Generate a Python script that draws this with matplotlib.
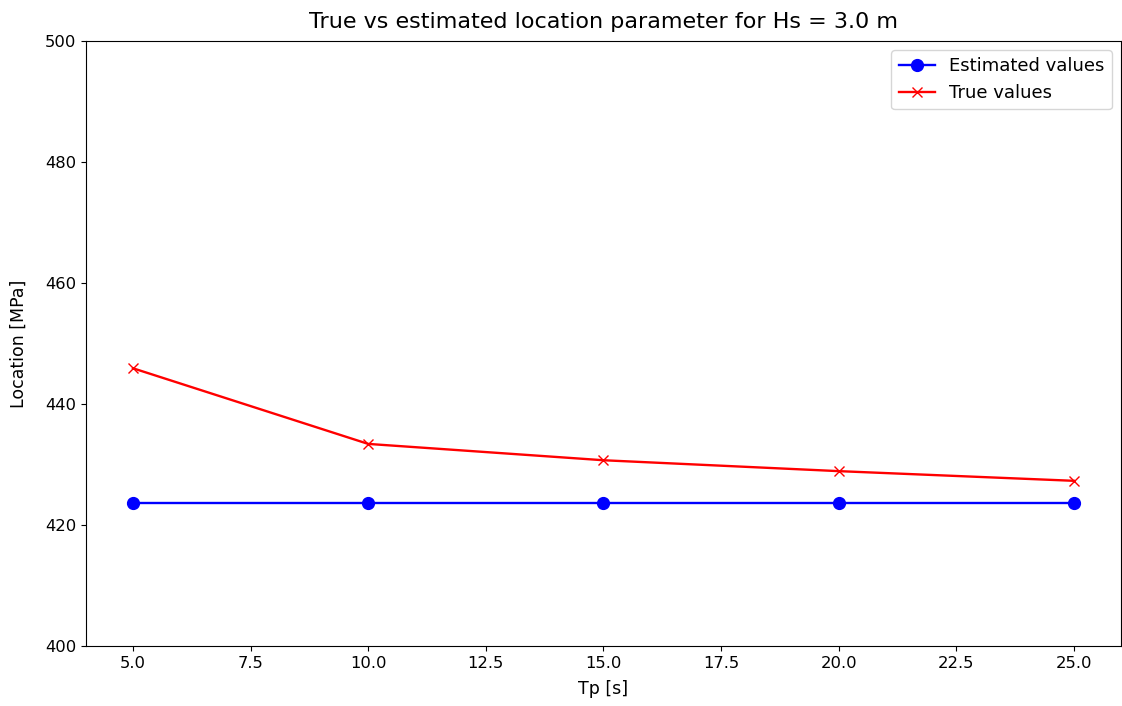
import matplotlib
matplotlib.use("Agg")
import matplotlib.pyplot as plt

# Location parameter per peak period, Hs = 3.0 m
tp = [5.0, 10.0, 15.0, 20.0, 25.0]
loc_estimated = [423.6, 423.6, 423.6, 423.6, 423.6]
loc_true = [445.9, 433.4, 430.7, 428.9, 427.3]
hs = 3.0

fig, ax = plt.subplots(figsize=(11.22, 7.06), dpi=100)
fig.subplots_adjust(left=0.0766, right=0.999, bottom=0.085, top=0.942)

ax.plot(tp, loc_estimated, marker="o", color="blue", markersize=8.5, lw=1.7, label="Estimated values")
ax.plot(tp, loc_true, marker="x", color="red", markersize=7, lw=1.7, label="True values")

ax.set_ylim(400, 500)
ax.set_xlabel("Tp [s]", fontsize=12.5, labelpad=7)
ax.set_ylabel("Location [MPa]", fontsize=12.5, labelpad=12)
ax.set_title(f"True vs estimated location parameter for Hs = {hs} m", fontsize=16, pad=9)
ax.tick_params(labelsize=11.8)
ax.legend(fontsize=13)

plt.savefig("out.png", dpi=100)
plt.close()
